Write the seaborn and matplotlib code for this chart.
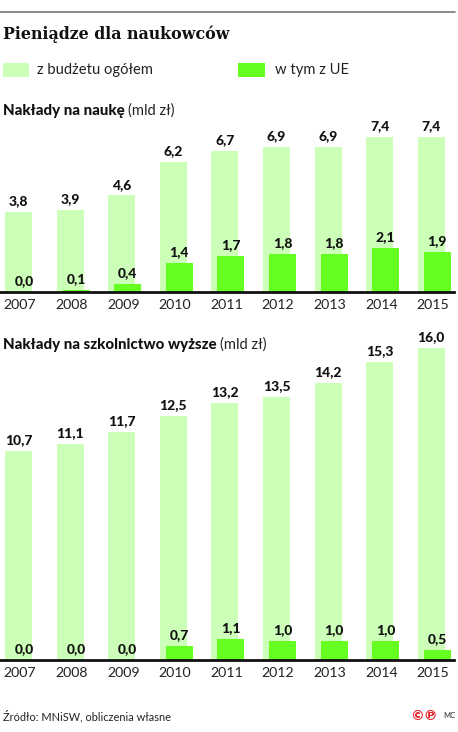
import numpy as np
import pandas as pd
import matplotlib
matplotlib.use("Agg")
import matplotlib.pyplot as plt
from matplotlib.patches import Rectangle
import seaborn as sns

years = ["2007", "2008", "2009", "2010", "2011", "2012", "2013", "2014", "2015"]
nauka_total = [3.8, 3.9, 4.6, 6.2, 6.7, 6.9, 6.9, 7.4, 7.4]
nauka_ue = [0.0, 0.1, 0.4, 1.4, 1.7, 1.8, 1.8, 2.1, 1.9]
szkol_total = [10.7, 11.1, 11.7, 12.5, 13.2, 13.5, 14.2, 15.3, 16.0]
szkol_ue = [0.0, 0.0, 0.0, 0.7, 1.1, 1.0, 1.0, 1.0, 0.5]

LIGHT = "#ccffb8"
GREEN = "#66ff22"
W, H = 458, 732

sns.set_theme(style="white")
plt.rcParams['font.family'] = ['Lato', 'DejaVu Sans']

fig = plt.figure(figsize=(W / 100, H / 100), dpi=100)


def fx(x):
    return x / W


def fy(y):
    return 1 - y / H


def fmt(v):
    return f"{v:.1f}".replace(".", ",")


def panel(base_px, height_px, px_per_unit, total, ue):
    ax = fig.add_axes([0, fy(base_px), 454 / W, height_px / H])
    spacing = 51.6
    x0 = 18.5
    idx = np.arange(len(years))
    off = 6 / spacing
    df1 = pd.DataFrame({"x": idx.astype(float), "v": total})
    df2 = pd.DataFrame({"x": idx + off, "v": ue})
    sns.barplot(data=df1, x="x", y="v", native_scale=True, width=0.52,
                color=LIGHT, saturation=1, linewidth=0, ax=ax)
    sns.barplot(data=df2, x="x", y="v", native_scale=True, width=0.52,
                color=GREEN, saturation=1, linewidth=0, ax=ax)
    ax.set_xlim(-x0 / spacing, (454 - x0) / spacing)
    ax.set_ylim(0, height_px / px_per_unit)
    for s in ["top", "right", "left"]:
        ax.spines[s].set_visible(False)
    ax.spines["bottom"].set_color("#111111")
    ax.spines["bottom"].set_linewidth(2)
    ax.set_yticks([])
    ax.set_xticks(idx + 0.03)
    ax.set_xticklabels(years, fontsize=10.2, color="#222222")
    ax.tick_params(axis="x", length=0, pad=5)
    ax.set_xlabel("")
    ax.set_ylabel("")
    for i in idx:
        ax.annotate(fmt(total[i]), (i, total[i]), xytext=(0, 3.5),
                    textcoords="offset points", ha="center", va="bottom",
                    fontsize=10, fontweight="black", color="#111111",
                    annotation_clip=False)
        ax.annotate(fmt(ue[i]), (i + off, ue[i]), xytext=(0, 3.5),
                    textcoords="offset points", ha="center", va="bottom",
                    fontsize=10, fontweight="black", color="#111111",
                    annotation_clip=False)
    return ax


panel(292, 170, 21.0, nauka_total, nauka_ue)
panel(660, 325, 19.5, szkol_total, szkol_ue)

# top rule
fig.add_artist(plt.Line2D([0, fx(455)], [fy(12), fy(12)], color="#777777", linewidth=1.2))

fig.text(fx(3), fy(34), "Pieniądze dla naukowców", fontsize=11.4, fontweight="bold",
         family=["DejaVu Serif"], color="#111111", va="center", ha="left")

# legend
fig.add_artist(Rectangle((fx(3), fy(77)), fx(26), 14 / H, transform=fig.transFigure,
                         facecolor=LIGHT, edgecolor="none"))
fig.text(fx(37), fy(70), "z budżetu ogółem", fontsize=10.6, color="#222222", va="center")
fig.add_artist(Rectangle((fx(238), fy(77)), fx(27), 14 / H, transform=fig.transFigure,
                         facecolor=GREEN, edgecolor="none"))
fig.text(fx(275), fy(70), "w tym z UE", fontsize=10.6, color="#222222", va="center")

# subtitles
t1 = fig.text(fx(3), fy(111), "Nakłady na naukę", fontsize=10.8, fontweight="black",
              color="#111111", va="center")
fig.canvas.draw()
r = fig.canvas.get_renderer()
bb = t1.get_window_extent(r)
fig.text(fx(bb.x1 + 3), fy(111), "(mld zł)", fontsize=10.6, color="#222222", va="center")

t2 = fig.text(fx(3), fy(345), "Nakłady na szkolnictwo wyższe", fontsize=10.8, fontweight="black",
              color="#111111", va="center")
bb2 = t2.get_window_extent(r)
fig.text(fx(bb2.x1 + 3), fy(345), "(mld zł)", fontsize=10.6, color="#222222", va="center")

fig.text(fx(3), fy(716), "Źródło: MNiSW, obliczenia własne", fontsize=7.9, color="#222222",
         va="center")
fig.text(fx(410), fy(716), "©℗", fontsize=10, fontweight="bold", color="#e8202a",
         family=["DejaVu Sans"], va="center")
fig.text(fx(443), fy(716), "MC", fontsize=5.5, color="#222222", va="center")

fig.savefig("out.png", dpi=100, facecolor="white")
